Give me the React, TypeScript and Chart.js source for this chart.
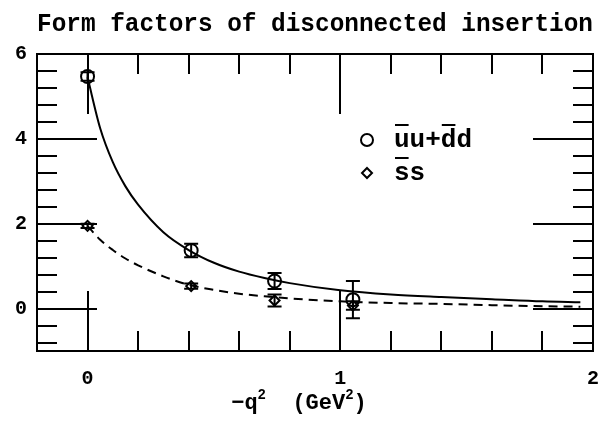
import React, { useEffect, useRef } from "react";
import { Chart, registerables } from "chart.js";

Chart.register(...registerables);

// ---- data ----
const curveQ2 = [0, 0.05, 0.1, 0.15, 0.2, 0.3, 0.4, 0.5, 0.6, 0.7, 0.8, 1.0, 1.2, 1.4, 1.6, 1.8, 1.95];
const udFit = [5.45, 4.25, 3.45, 2.88, 2.45, 1.8, 1.38, 1.08, 0.87, 0.72, 0.6, 0.43, 0.33, 0.27, 0.22, 0.17, 0.15];
const ssFit = [1.95, 1.62, 1.38, 1.18, 1.02, 0.76, 0.56, 0.44, 0.35, 0.29, 0.24, 0.17, 0.13, 0.11, 0.08, 0.055, 0.045];

const pointQ2 = [0, 0.41, 0.74, 1.05];
const udValues = [5.47, 1.37, 0.65, 0.21];
const udErrors = [0.1, 0.16, 0.19, 0.44];
const ssValues = [1.95, 0.53, 0.19, 0.07];
const ssErrors = [0.05, 0.06, 0.14, 0.1];

const xTickValues = [0, 1, 2];
const yTickValues = [0, 2, 4, 6];

const titleText = "Form factors of disconnected insertion";
const udLabel = "uu+dd";
const ssLabel = "ss";

const MONO = '"Liberation Mono", "DejaVu Sans Mono", monospace';

function drawMarker(ctx: CanvasRenderingContext2D, style: string, x: number, y: number, r: number) {
  ctx.beginPath();
  if (style === "circle") {
    ctx.arc(x, y, r, 0, Math.PI * 2);
  } else {
    ctx.moveTo(x, y - r);
    ctx.lineTo(x + r, y);
    ctx.lineTo(x, y + r);
    ctx.lineTo(x - r, y);
    ctx.closePath();
  }
  ctx.stroke();
}

const decorPlugin = {
  id: "decor",
  beforeDatasetsDraw(chart: any) {
    const { ctx, chartArea } = chart;
    const xs = chart.scales.x;
    const ys = chart.scales.y;
    const { left, right, top, bottom } = chartArea;
    ctx.save();
    ctx.strokeStyle = "#000";
    ctx.lineWidth = 2;
    ctx.strokeRect(left, top, right - left, bottom - top);
    ctx.beginPath();
    // x ticks every 0.2, long at integers
    for (let i = -1; i <= 10; i++) {
      const v = i * 0.2;
      const major = i % 5 === 0;
      const len = major ? 60 : 20;
      const px = Math.round(xs.getPixelForValue(v));
      ctx.moveTo(px, bottom);
      ctx.lineTo(px, bottom - len);
      ctx.moveTo(px, top);
      ctx.lineTo(px, top + len);
    }
    // y ticks every 0.4, long at multiples of 2
    for (let i = -2; i <= 15; i++) {
      const v = i * 0.4;
      const major = i % 5 === 0;
      const len = major ? 60 : 20;
      const py = Math.round(ys.getPixelForValue(v));
      ctx.moveTo(left, py);
      ctx.lineTo(left + len, py);
      ctx.moveTo(right, py);
      ctx.lineTo(right - len, py);
    }
    ctx.stroke();
    ctx.restore();
  },
  afterDatasetsDraw(chart: any) {
    const { ctx, chartArea } = chart;
    const xs = chart.scales.x;
    const ys = chart.scales.y;
    ctx.save();
    ctx.strokeStyle = "#000";
    ctx.fillStyle = "#000";
    ctx.lineWidth = 2;
    // error bars
    const bars = (vals: number[], errs: number[]) => {
      ctx.beginPath();
      pointQ2.forEach((q, i) => {
        const px = xs.getPixelForValue(q);
        const y1 = ys.getPixelForValue(vals[i] - errs[i]);
        const y2 = ys.getPixelForValue(vals[i] + errs[i]);
        ctx.moveTo(px, y1);
        ctx.lineTo(px, y2);
        ctx.moveTo(px - 7, y1);
        ctx.lineTo(px + 7, y1);
        ctx.moveTo(px - 7, y2);
        ctx.lineTo(px + 7, y2);
      });
      ctx.stroke();
    };
    bars(udValues, udErrors);
    bars(ssValues, ssErrors);

    // legend
    const lx = chartArea.left + 330;
    const ly1 = chartArea.top + 86;
    const ly2 = chartArea.top + 119;
    drawMarker(ctx, "circle", lx, ly1, 6);
    drawMarker(ctx, "diamond", lx, ly2, 5);
    ctx.font = `bold 26px ${MONO}`;
    ctx.textBaseline = "alphabetic";
    ctx.textAlign = "left";
    const tx = lx + 27;
    const b1 = ly1 + 7;
    const b2 = ly2 + 7;
    ctx.fillText(udLabel, tx, b1);
    ctx.fillText(ssLabel, tx, b2);
    const cw = ctx.measureText("u").width;
    ctx.beginPath();
    const over = (x0: number, base: number) => {
      ctx.moveTo(x0 + 1, base - 22);
      ctx.lineTo(x0 + cw - 1, base - 22);
    };
    over(tx, b1);
    over(tx + ctx.measureText("uu+").width, b1);
    over(tx, b2);
    ctx.stroke();

    // x axis title: -q^2  (GeV^2)
    const big = `bold 22px ${MONO}`;
    const small = `bold 14px ${MONO}`;
    const parts: [string, boolean][] = [["\u2212q", false], ["2", true], ["  (GeV", false], ["2", true], [")", false]];
    let total = 0;
    parts.forEach(([t, sup]) => {
      ctx.font = sup ? small : big;
      total += ctx.measureText(t).width;
    });
    const cx = (chartArea.left + chartArea.right) / 2 - 16;
    let x = cx - total / 2;
    const base = chart.height - 20;
    parts.forEach(([t, sup]) => {
      ctx.font = sup ? small : big;
      ctx.fillText(t, x, sup ? base - 10 : base);
      x += ctx.measureText(t).width;
    });
    ctx.restore();
  },
};

export default function App() {
  const ref = useRef<HTMLCanvasElement | null>(null);
  useEffect(() => {
    if (!ref.current) return;
    const chart = new Chart(ref.current, {
      type: "scatter",
      data: {
        datasets: [
          {
            label: "fit uu+dd",
            data: curveQ2.map((q, i) => ({ x: q, y: udFit[i] })),
            showLine: true,
            borderColor: "#000",
            borderWidth: 2,
            pointRadius: 0,
            cubicInterpolationMode: "monotone",
            fill: false,
          },
          {
            label: "fit ss",
            data: curveQ2.map((q, i) => ({ x: q, y: ssFit[i] })),
            showLine: true,
            borderColor: "#000",
            borderWidth: 2,
            borderDash: [9, 6],
            pointRadius: 0,
            cubicInterpolationMode: "monotone",
            fill: false,
          },
          {
            label: udLabel,
            data: pointQ2.map((q, i) => ({ x: q, y: udValues[i] })),
            showLine: false,
            pointStyle: "circle",
            pointRadius: 6.5,
            borderColor: "#000",
            backgroundColor: "rgba(0,0,0,0)",
            borderWidth: 2,
          },
          {
            label: ssLabel,
            data: pointQ2.map((q, i) => ({ x: q, y: ssValues[i] })),
            showLine: false,
            pointStyle: "rectRot",
            pointRadius: 5,
            borderColor: "#000",
            backgroundColor: "rgba(0,0,0,0)",
            borderWidth: 2,
          },
        ],
      },
      options: {
        animation: false,
        responsive: false,
        events: [],
        layout: { padding: { left: 0, right: 12, top: 0, bottom: 0 } },
        plugins: {
          legend: { display: false },
          tooltip: { enabled: false },
          title: {
            display: true,
            text: titleText,
            fullSize: false,
            color: "#000",
            font: { family: MONO, size: 25, weight: "bold" },
            padding: { top: 10, bottom: 14 },
          },
        },
        scales: {
          x: {
            type: "linear",
            min: -0.2,
            max: 2,
            grid: { display: false, drawTicks: false },
            border: { display: false },
            afterBuildTicks: (s: any) => {
              s.ticks = xTickValues.map((v) => ({ value: v }));
            },
            afterFit: (s: any) => {
              s.height = 78;
              s.paddingLeft = 0;
              s.paddingRight = 0;
            },
            ticks: {
              autoSkip: false,
              maxRotation: 0,
              padding: 16,
              color: "#000",
              font: { family: MONO, size: 20, weight: "bold" },
            },
          },
          y: {
            type: "linear",
            min: -1,
            max: 6,
            grid: { display: false, drawTicks: false },
            border: { display: false },
            afterBuildTicks: (s: any) => {
              s.ticks = yTickValues.map((v) => ({ value: v }));
            },
            afterFit: (s: any) => {
              s.width = 37;
              s.paddingTop = 0;
              s.paddingBottom = 0;
            },
            ticks: {
              autoSkip: false,
              padding: 10,
              color: "#000",
              font: { family: MONO, size: 20, weight: "bold" },
            },
          },
        },
      },
      plugins: [decorPlugin],
    } as any);
    return () => chart.destroy();
  }, []);
  return (
    <div style={{ position: "absolute", left: 0, top: 0, width: 605, height: 429, background: "#fff" }}>
      <canvas ref={ref} width={605} height={429} />
    </div>
  );
}
